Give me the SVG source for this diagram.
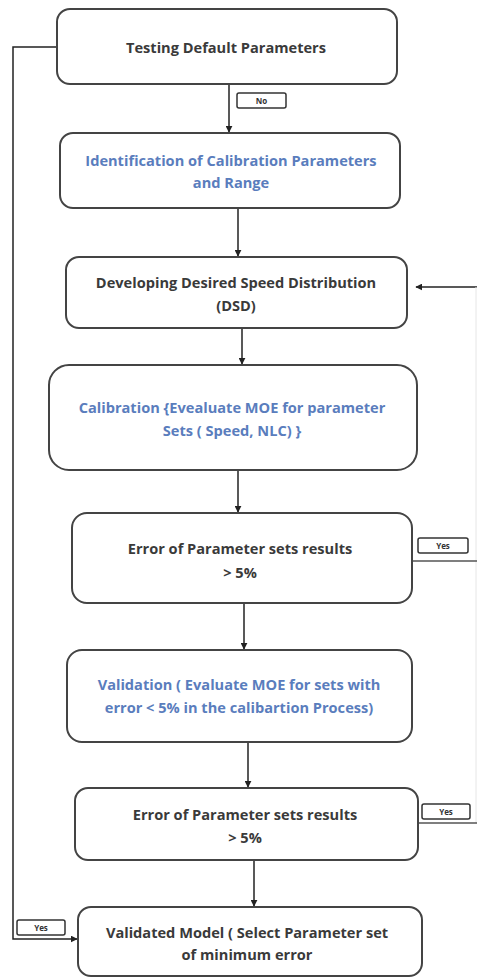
<svg xmlns="http://www.w3.org/2000/svg" width="477" height="978" viewBox="0 0 477 978">
  <defs>
    <marker id="arrow" viewBox="0 0 10 10" refX="9" refY="5" markerWidth="7" markerHeight="7" orient="auto" markerUnits="userSpaceOnUse">
      <path d="M0,0 L10,5 L0,10 z" fill="#222"/>
    </marker>
    <style>
      .box { fill: #fff; stroke: #444; stroke-width: 2; }
      .tag { fill: #fff; stroke: #333; stroke-width: 1.5; }
      .t { font-family: "Open Sans", "Liberation Sans", sans-serif; font-weight: 700; font-size: 14.6px; fill: #3a3a3a; text-anchor: middle; }
      .blue { fill: #5a7dbd; }
      .lbl { font-family: "Open Sans", "Liberation Sans", sans-serif; font-weight: 700; font-size: 8px; fill: #333; text-anchor: middle; }
      .ln { fill: none; stroke: #222; stroke-width: 1.5; }
      .ln2 { fill: none; stroke: #555; stroke-width: 1.5; }
      .faint { fill: none; stroke: #e6e6e6; stroke-width: 1; }
    </style>
  </defs>
  <rect width="477" height="978" fill="#fff"/>

  <g id="connectors">
    <line class="ln" x1="229" y1="84" x2="229" y2="132" marker-end="url(#arrow)"/>
    <line class="ln" x1="238" y1="208" x2="238" y2="256" marker-end="url(#arrow)"/>
    <line class="ln" x1="242" y1="328" x2="242" y2="364" marker-end="url(#arrow)"/>
    <line class="ln" x1="238" y1="470" x2="238" y2="512" marker-end="url(#arrow)"/>
    <line class="ln" x1="244" y1="603" x2="244" y2="649" marker-end="url(#arrow)"/>
    <line class="ln" x1="248" y1="742" x2="248" y2="787" marker-end="url(#arrow)"/>
    <line class="ln" x1="254" y1="860" x2="254" y2="906" marker-end="url(#arrow)"/>
    <!-- loop back to DSD from the right edge -->
    <line class="ln" x1="477" y1="287" x2="416" y2="287" marker-end="url(#arrow)"/>
    <line class="faint" x1="476" y1="287" x2="476" y2="823"/>
    <line class="ln2" x1="412" y1="561" x2="477" y2="561"/>
    <line class="ln2" x1="418" y1="823" x2="477" y2="823"/>
    <!-- bypass from default parameters to validated model -->
    <polyline class="ln" points="57,47 13,47 13,939 77,939" marker-end="url(#arrow)"/>
  </g>

  <g id="label-no">
    <rect class="tag" x="237" y="93" width="49" height="15" rx="2"/>
    <text class="lbl" x="261.5" y="103.5">No</text>
  </g>
  <g id="label-yes-1">
    <rect class="tag" x="418" y="538" width="50" height="15" rx="2"/>
    <text class="lbl" x="443" y="548.5">Yes</text>
  </g>
  <g id="label-yes-2">
    <rect class="tag" x="422" y="804" width="48" height="15" rx="2"/>
    <text class="lbl" x="446" y="814.5">Yes</text>
  </g>
  <g id="label-yes-3">
    <rect class="tag" x="17" y="920" width="48" height="15" rx="2"/>
    <text class="lbl" x="41" y="930.5">Yes</text>
  </g>

  <g id="testing-default">
    <rect class="box" x="57" y="9" width="340" height="75" rx="13"/>
    <text class="t" x="226" y="53">Testing Default Parameters</text>
  </g>

  <g id="identification">
    <rect class="box" x="60" y="133" width="340" height="75" rx="13"/>
    <text class="t blue" x="231" y="166">Identification of Calibration Parameters</text>
    <text class="t blue" x="231" y="188">and Range</text>
  </g>

  <g id="dsd">
    <rect class="box" x="66" y="257" width="341" height="71" rx="13"/>
    <text class="t" x="236" y="288">Developing Desired Speed Distribution</text>
    <text class="t" x="236" y="311">(DSD)</text>
  </g>

  <g id="calibration">
    <rect class="box" x="49" y="365" width="368" height="105" rx="20"/>
    <text class="t blue" x="232" y="413">Calibration {Evealuate MOE for parameter</text>
    <text class="t blue" x="232" y="436">Sets ( Speed, NLC) }</text>
  </g>

  <g id="error-calibration">
    <rect class="box" x="72" y="513" width="340" height="90" rx="15"/>
    <text class="t" x="240" y="554">Error of Parameter sets results</text>
    <text class="t" x="240" y="578">&gt; 5%</text>
  </g>

  <g id="validation">
    <rect class="box" x="67" y="650" width="345" height="92" rx="15"/>
    <text class="t blue" x="239" y="690">Validation (  Evaluate MOE for sets with</text>
    <text class="t blue" x="239" y="713">error &lt; 5% in the calibartion Process)</text>
  </g>

  <g id="error-validation">
    <rect class="box" x="75" y="788" width="343" height="72" rx="13"/>
    <text class="t" x="245" y="820">Error of Parameter sets results</text>
    <text class="t" x="245" y="843">&gt; 5%</text>
  </g>

  <g id="validated-model">
    <rect class="box" x="78" y="907" width="344" height="69" rx="13"/>
    <text class="t" x="247" y="938">Validated Model ( Select Parameter set</text>
    <text class="t" x="247" y="960">of minimum error</text>
  </g>
</svg>
